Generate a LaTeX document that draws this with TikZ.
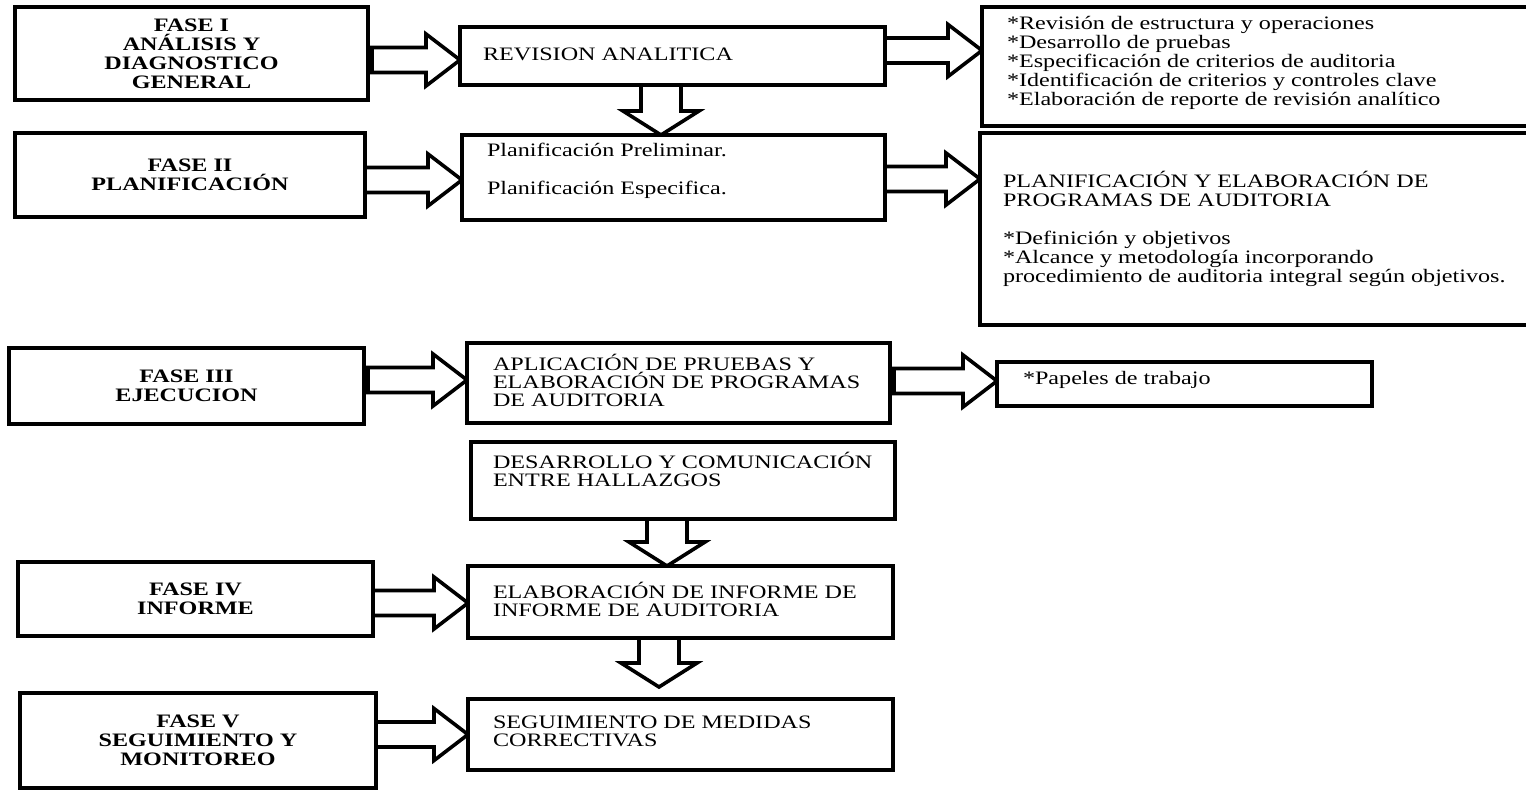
\documentclass[tikz,border=0pt]{standalone}
\usepackage{fontspec}
\setmainfont{Liberation Serif}[FakeStretch=1.27]
\usetikzlibrary{calc}
\pgfdeclarelayer{bg}
\pgfsetlayers{bg,main}

\tikzset{
  box/.style={draw, line width=2pt, inner sep=0pt, outer sep=0pt, fill=white},
  phase/.style={box, align=center, font=\bfseries\fontsize{9.5}{9.5}\selectfont},
  txt/.style={anchor=west, inner sep=0pt, outer sep=0pt, align=left,
              font=\fontsize{9.5}{9}\selectfont},
  % wide block arrow pointing right; its tip sits on the target point
  harrow/.style={line width=1.8pt, fill=white, line join=miter,
    to path={let \p1=(\tikztostart), \p2=(\tikztotarget) in
      (\x1,\y2+6.25pt) -- (\x2-17pt,\y2+6.25pt) -- (\x2-17pt,\y2+13pt)
      -- (\x2,\y2) -- (\x2-17pt,\y2-13pt) -- (\x2-17pt,\y2-6.25pt)
      -- (\x1,\y2-6.25pt) -- cycle}},
  % wide block arrow pointing down
  varrow/.style={line width=1.8pt, fill=white, line join=miter,
    to path={let \p1=(\tikztostart), \p2=(\tikztotarget) in
      (\x2-10pt,\y1) -- (\x2-10pt,\y2+12pt) -- (\x2-19pt,\y2+12pt)
      -- (\x2,\y2) -- (\x2+19pt,\y2+12pt) -- (\x2+10pt,\y2+12pt)
      -- (\x2+10pt,\y1) -- cycle}}
}

\begin{document}
\begin{tikzpicture}[x=0.5pt, y=-0.5pt]
\useasboundingbox (0,0) rectangle (1526,790);
\begin{pgfonlayer}{bg}
  \fill[white] (0,0) rectangle (1526,790);
\end{pgfonlayer}
\clip (0,0) rectangle (1526,790);

% phases (left column)
\node[phase, minimum width=176.5pt, minimum height=46.5pt] (f1) at (191.5,53.5)
  {FASE I\\ANÁLISIS Y\\DIAGNOSTICO\\GENERAL};
\node[phase, minimum width=175pt, minimum height=42pt] (f2) at (190,175)
  {FASE II\\PLANIFICACIÓN};
\node[phase, minimum width=177.5pt, minimum height=38pt] (f3) at (186.5,386)
  {FASE III\\EJECUCION};
\node[phase, minimum width=177.5pt, minimum height=37pt] (f4) at (195.5,599)
  {FASE IV\\INFORME};
\node[phase, minimum width=178pt, minimum height=47.5pt] (f5) at (198,740.5)
  {FASE V\\SEGUIMIENTO Y\\MONITOREO};

% activities (middle column)
\node[box, minimum width=212.5pt, minimum height=29pt] (ra) at (672.5,56) {};
\node[box, minimum width=211.5pt, minimum height=42.5pt] (pp) at (673.5,177.5) {};
\node[box, minimum width=211.5pt, minimum height=40pt] (ap) at (678.5,383) {};
\node[box, minimum width=212pt, minimum height=38.5pt] (dc) at (683,480.5) {};
\node[box, minimum width=212.5pt, minimum height=36pt] (ei) at (680.5,602) {};
\node[box, minimum width=212.5pt, minimum height=35.5pt] (sm) at (680.5,734.5) {};

\node[txt] (ra-t) at ([xshift=11.5pt, yshift=1pt]ra.west) {REVISION ANALITICA};
\node[txt, font=\fontsize{9.5}{9.5}\selectfont] (pp-t) at ([xshift=12.5pt, yshift=3.25pt]pp.west)
  {Planificación Preliminar.\\[9.5pt]Planificación Especifica.};
\node[txt] (ap-t) at ([xshift=13pt, yshift=1.5pt]ap.west)
  {APLICACIÓN DE PRUEBAS Y\\ELABORACIÓN DE PROGRAMAS\\DE AUDITORIA};
\node[txt] (dc-t) at ([xshift=11pt, yshift=5.75pt]dc.west)
  {DESARROLLO Y COMUNICACIÓN\\ENTRE HALLAZGOS};
\node[txt] (ei-t) at ([xshift=12.5pt, yshift=1.5pt]ei.west)
  {ELABORACIÓN DE INFORME DE\\INFORME DE AUDITORIA};
\node[txt] (sm-t) at ([xshift=12.5pt, yshift=1.75pt]sm.west)
  {SEGUIMIENTO DE MEDIDAS\\CORRECTIVAS};

% outputs (right column)
\node[box, minimum width=289pt, minimum height=59.5pt] (r1) at (1271,66.5) {};
\node[box, minimum width=290pt, minimum height=96pt] (r2) at (1270,229) {};
\node[box, minimum width=187.5pt, minimum height=22pt] (r3) at (1184.5,384) {};

\node[txt, font=\fontsize{9.5}{9.5}\selectfont] (r1-t) at ([xshift=12.5pt, yshift=2pt]r1.west)
  {*Revisión de estructura y operaciones\\{*}Desarrollo de pruebas\\{*}Especificación de criterios de auditoria\\{*}Identificación de criterios y controles clave\\{*}Elaboración de reporte de revisión analítico};
\node[txt, font=\fontsize{9.5}{9.5}\selectfont] (r2-t) at ([xshift=11.5pt]r2.west)
  {PLANIFICACIÓN Y ELABORACIÓN DE\\PROGRAMAS DE AUDITORIA\\[9.5pt]{*}Definición y objetivos\\{*}Alcance y metodología incorporando\\procedimiento de auditoria integral según objetivos.};
\node[txt] (r3-t) at ([xshift=13pt, yshift=2pt]r3.west) {*Papeles de trabajo};

% block arrows
\begin{pgfonlayer}{bg}
  \draw[harrow] ([xshift=2pt]f1.east) to ([yshift=-2pt]ra.west);
  \draw[harrow] (f2.east) to ([yshift=-1.25pt]pp.west);
  \draw[harrow] ([xshift=2pt]f3.east) to ([yshift=1.5pt]ap.west);
  \draw[harrow] (f4.east) to ([yshift=-0.5pt]ei.west);
  \draw[harrow] (f5.east) to (sm.west);
  \draw[harrow] (ra.east) to ([yshift=8pt]r1.west);
  \draw[harrow] (pp.east) to ([yshift=25pt]r2.west);
  \draw[harrow] ([xshift=2pt]ap.east) to ([yshift=1.5pt]r3.west);
  \draw[varrow] ([xshift=-6.25pt]ra.south) to ([xshift=-6.25pt]pp.north);
  \draw[varrow] ([xshift=-6.75pt]dc.south) to ([xshift=-6.75pt]ei.north);
  \draw[varrow] ([xshift=-10.75pt]ei.south) to ([xshift=-10.75pt, yshift=6pt]sm.north);
\end{pgfonlayer}
\end{tikzpicture}
\end{document}
